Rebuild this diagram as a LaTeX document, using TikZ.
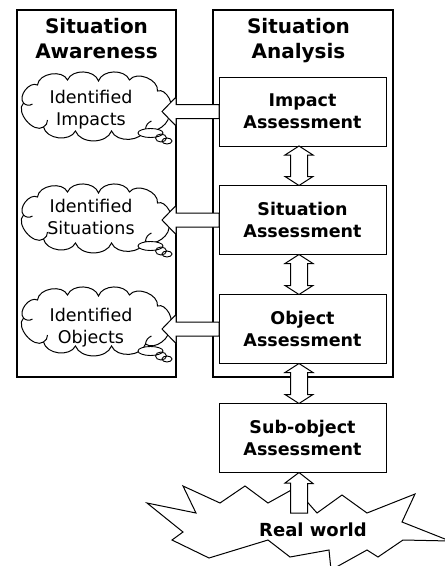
\documentclass[tikz,border=0pt]{standalone}
\usepackage{fontspec}
\setmainfont{DejaVu Sans}
\usetikzlibrary{calc}
\newcommand\vdarrow[2]{%
  \draw[arrowline] (#1.south -| ax) -- ++(14,9) -- ++(-5.5,0)
    -- ($(#2.north -| ax)+(8.5,-9)$) -- ++(5.5,0) -- (#2.north -| ax)
    -- ++(-14,-9) -- ++(5.5,0) -- ($(#1.south -| ax)+(-8.5,9)$) -- ++(-5.5,0) -- cycle;}
\newcommand\hlarrow[1]{%
  \draw[arrowline] ($(#1.west)+(0,-7)$) -- ($(lbox.east |- #1.west)+(0,-7)$) -- ++(0,-7.5)
    -- ($(lbox.east |- #1.west)+(-14,0)$) -- ($(lbox.east |- #1.west)+(0,14.5)$) -- ++(0,-7.5)
    -- ($(#1.west)+(0,7)$) -- cycle;}
\begin{document}
\begin{tikzpicture}[x=1pt,y=-1pt,
  outerbox/.style={draw, line width=2.6pt, minimum height=367pt, inner sep=0pt, outer sep=0pt},
  stagebox/.style={draw, line width=1pt, fill=white, minimum width=167pt, minimum height=69pt,
     inner sep=0pt, outer sep=0pt, align=center, font=\fontsize{17.5}{22}\selectfont\bfseries},
  titletext/.style={anchor=base, inner sep=0pt, font=\fontsize{20}{25}\selectfont\bfseries},
  cloudtext/.style={anchor=base, inner sep=0pt, font=\fontsize{17.5}{22}\selectfont},
  cloudline/.style={draw, line width=1pt, fill=white},
  bubble/.style={draw, line width=0.9pt},
  arrowline/.style={draw, line width=1pt, fill=white, line join=miter},
  thoughtcloud/.pic={
    \draw[cloudline] (-72,-4) to[bend left=80] (-58,-22) to[bend left=75] (-28,-27)
      to[bend left=70] (3,-26) to[bend left=70] (34,-27) to[bend left=75] (62,-16)
      to[bend left=85] (73,5) to[bend left=75] (50,22) to[bend left=70] (16,24)
      to[bend left=70] (-20,24) to[bend left=70] (-52,20) to[bend left=85] (-72,-4) -- cycle;
    \draw[line width=1pt] (-72,-4) to[bend right=40] (-63,-3);
    \draw[line width=1pt] (-52,20) to[bend right=30] (-48,13);
    \draw[line width=1pt] (50,22) to[bend left=30] (56,14);
  },
]
\useasboundingbox[fill=white] (0,0) rectangle (445,566);
\coordinate (ax) at (299,0);
% outer panels
\node[outerbox, minimum width=159pt] (lbox) at (96.5,193.5) {};
\node[outerbox, minimum width=180pt] (rbox) at (303,193.5) {};
\node[titletext] (lt1) at (96.5,33) {Situation};
\node[titletext] (lt2) at (96.5,58) {Awareness};
\node[titletext] (rt1) at (298.5,33) {Situation};
\node[titletext] (rt2) at (298.5,58) {Analysis};
% stage boxes
\node[stagebox] (ia) at (302.5,111.5) {Impact\\Assessment};
\node[stagebox] (sa) at (302.5,220) {Situation\\Assessment};
\node[stagebox] (oa) at (302.5,329) {Object\\Assessment};
\node[stagebox] (sb) at (302.5,438) {Sub-object\\Assessment};
% clouds
\pic (c1) at (95.5,107) {thoughtcloud};
\pic (c2) at (95.5,219) {thoughtcloud};
\pic (c3) at (95.5,322) {thoughtcloud};
\foreach \y in {133, 246, 351}{
  \draw[bubble, fill=white] (150.5,\y) ellipse (12.5 and 4.5);
  \draw[bubble] (161,\y+5) ellipse (5.5 and 4);
  \draw[bubble] (167,\y+8) ellipse (5 and 3);
}
\node[cloudtext] (c1a) at (91,103) {Identified};
\node[cloudtext] (c1b) at (91,125) {Impacts};
\node[cloudtext] (c2a) at (91,212) {Identified};
\node[cloudtext] (c2b) at (91,234) {Situations};
\node[cloudtext] (c3a) at (91,321) {Identified};
\node[cloudtext] (c3b) at (91,343) {Objects};
% arrows box -> cloud
\hlarrow{ia}
\hlarrow{sa}
\hlarrow{oa}
% vertical double arrows
\vdarrow{ia}{sa}
\vdarrow{sa}{oa}
\vdarrow{oa}{sb}
% real world starburst
\draw[line width=1pt, fill=white, line join=miter]
  (147,503) -- (196,513) -- (183,486) -- (220,503) -- (245,486) -- (268,503)
  -- (295,488) -- (317,513) -- (342,495) -- (367,513) -- (415,494) -- (402,522)
  -- (450,541) -- (403,540) -- (378,557) -- (367,550) -- (331,570) -- (329,550)
  -- (290,557) -- (268,540) -- (209,558) -- (172,540) -- (183,532) -- cycle;
\node[anchor=base, inner sep=0pt, font=\fontsize{18}{22}\selectfont\bfseries] (rw) at (313,536) {Real world};
\coordinate (rwtop) at (299,513);
\draw[arrowline] (sb.south -| ax) -- ++(14,11) -- ++(-5.5,0) -- ($(rwtop)+(8.5,0)$)
  -- ($(rwtop)+(-8.5,0)$) -- ++(0,-30) -- ++(-5.5,0) -- cycle;
\end{tikzpicture}
\end{document}
